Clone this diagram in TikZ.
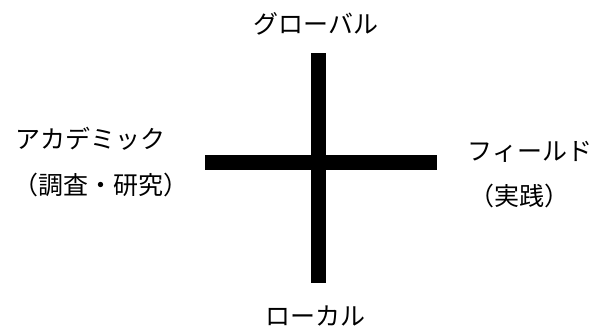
\documentclass[tikz,border=0pt]{standalone}
\usepackage{fontspec}
\setmainfont{Noto Sans CJK JP}
\usetikzlibrary{positioning}
\tikzset{
  bar/.style   = {line width=15pt, line cap=butt},
  axis/.style  = {inner sep=0, font=\fontsize{25pt}{29pt}\selectfont, align=center},
  sub/.style   = {inner sep=0, font=\fontsize{25pt}{29pt}\selectfont}
}

\begin{document}
\begin{tikzpicture}[x=1pt,y=-1pt]
  \useasboundingbox (0,0) rectangle (606,330);
  \coordinate (T) at (318, 53); \coordinate (B) at (318,283);
  \coordinate (L) at (205,162); \coordinate (R) at (437,162);
  \draw[bar] (T)--(B); \draw[bar] (L)--(R);
  \node[axis] (glo) at (316, 24) {グローバル};
  \node[axis] (loc) at (315,316) {ローカル};
  \node[axis] (aca) at ( 91,139) {アカデミック};
  \node[sub]  (acs) at (101,185) {（調査・研究）};
  \node[axis] (fie) at (530,152) {フィールド};
  \node[sub]  (fis) at (519,196) {（実践）};
\end{tikzpicture}
\end{document}
